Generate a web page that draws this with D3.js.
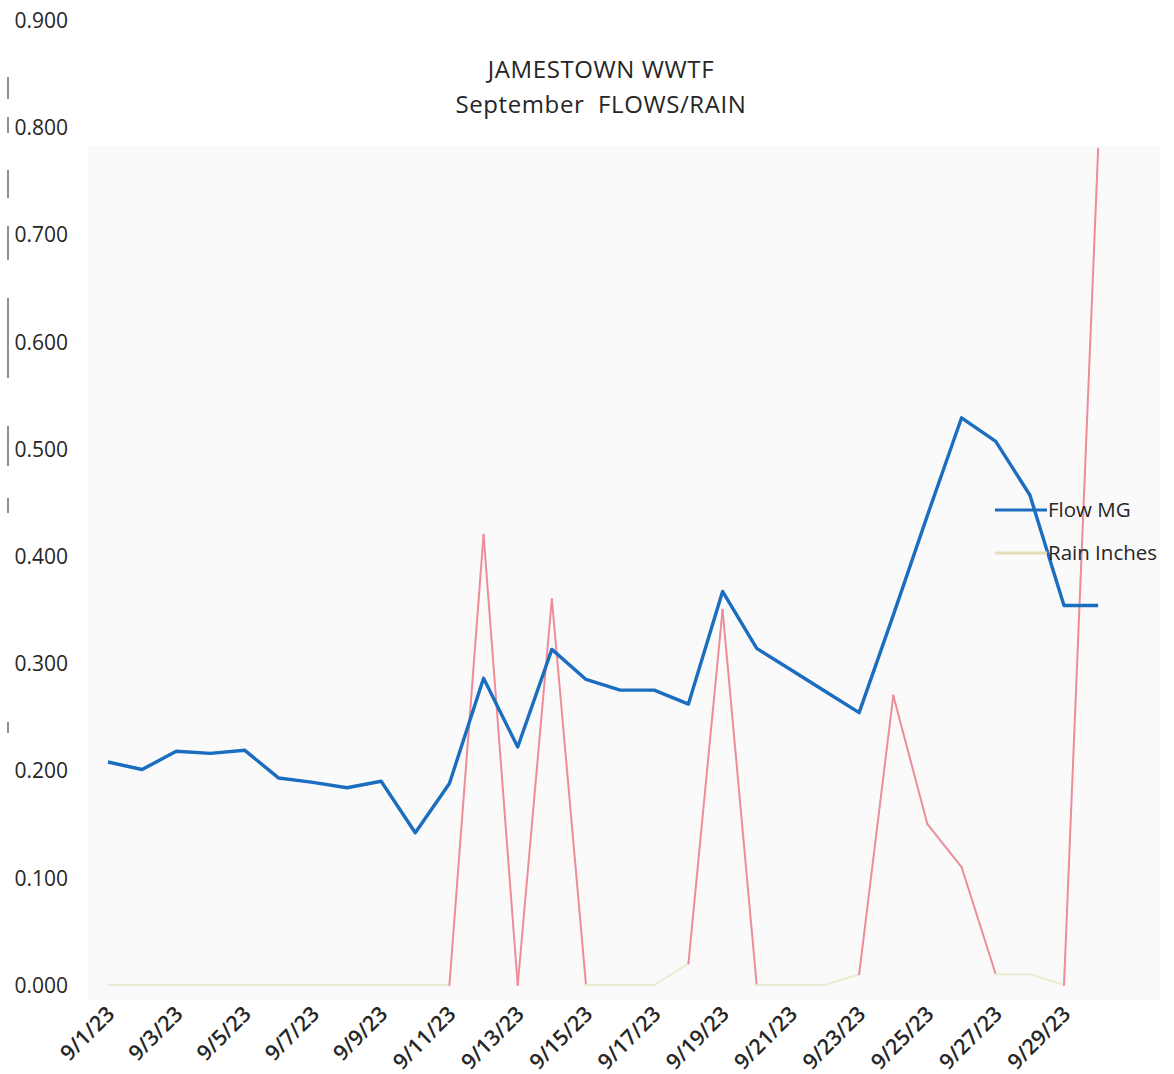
<!DOCTYPE html>
<html>
<head>
<meta charset="utf-8">
<script src="https://cdn.jsdelivr.net/npm/d3@7"></script>
<style>
  html, body { margin: 0; padding: 0; background: #fff; }
  svg { display: block; }
</style>
</head>
<body>
<svg id="chart" width="1174" height="1074"></svg>
<script>
// Daily readings for September 2023
const days = d3.range(1, 31);
const dateLabels = days.map(d => `9/${d}/23`);
const flowMG = [
  0.208, 0.201, 0.218, 0.216, 0.219, 0.193, 0.189, 0.184, 0.190, 0.142,
  0.188, 0.286, 0.222, 0.313, 0.285, 0.275, 0.275, 0.262, 0.367, 0.314,
  0.294, 0.274, 0.254, 0.345, 0.438, 0.529, 0.507, 0.457, 0.354, 0.354
];
const rainInches = [
  0.00, 0.00, 0.00, 0.00, 0.00, 0.00, 0.00, 0.00, 0.00, 0.00,
  0.00, 0.42, 0.00, 0.36, 0.00, 0.00, 0.00, 0.02, 0.35, 0.00,
  0.00, 0.00, 0.01, 0.27, 0.15, 0.11, 0.01, 0.01, 0.00, 0.78
];
const yTicks = [0, 0.1, 0.2, 0.3, 0.4, 0.5, 0.6, 0.7, 0.8, 0.9];
const seriesNames = ["Flow MG", "Rain Inches"];
const titleLines = ["JAMESTOWN WWTF", "September  FLOWS/RAIN"];

const svg = d3.select("#chart");
const font = "'Open Sans', 'Liberation Sans', sans-serif";

const x = d3.scaleLinear().domain([1, 29]).range([108, 1064]);
const y = d3.scaleLinear().domain([0, 0.9]).range([985, 20]);

// plot area panel
svg.append("rect")
  .attr("x", 88).attr("y", 146)
  .attr("width", 1072).attr("height", 854)
  .attr("fill", "#fafafa");

// title
svg.append("g").selectAll("text")
  .data(titleLines)
  .join("text")
  .attr("x", 601)
  .attr("y", (d, i) => 78 + i * 35)
  .attr("text-anchor", "middle")
  .attr("font-family", font)
  .attr("font-size", 24)
  .attr("letter-spacing", 0.6)
  .attr("fill", "#262626")
  .style("white-space", "pre")
  .text(d => d);

// broken left rule
svg.append("line")
  .attr("x1", 8).attr("x2", 8)
  .attr("y1", 77).attr("y2", 740)
  .attr("stroke", "#555")
  .attr("stroke-width", 1.3)
  .attr("stroke-dasharray", "22,18,16,37,28,28,34,38,80,48,40,32,15,209,11,1000");

// y axis labels
const yAxis = d3.axisLeft(y)
  .tickValues(yTicks)
  .tickFormat(d3.format(".3f"))
  .tickSize(0)
  .tickPadding(0);
const gy = svg.append("g").attr("transform", "translate(68,0)").call(yAxis);
gy.select(".domain").remove();
gy.selectAll("text")
  .attr("font-family", font)
  .attr("font-size", 21)
  .attr("fill", "#262626")
  .attr("dy", "0.35em");

// x axis labels (every other day)
const xAxis = d3.axisBottom(x)
  .tickValues(days.filter(d => d % 2 === 1))
  .tickFormat(d => dateLabels[d - 1])
  .tickSize(0)
  .tickPadding(0);
const gx = svg.append("g").attr("transform", "translate(0,1000)").call(xAxis);
gx.select(".domain").remove();
gx.selectAll("text")
  .attr("font-family", font)
  .attr("font-size", 21.5)
  .attr("font-weight", 600)
  .attr("fill", "#262626")
  .attr("text-anchor", "end")
  .attr("dy", "0.35em")
  .attr("transform", "translate(2,10) rotate(-45)");

// rain series: drawn as segments so the zero runs stay pale
const rainPts = days.map((d, i) => [d, rainInches[i]]);
const rainSegs = d3.pairs(rainPts);
svg.append("g").selectAll("line")
  .data(rainSegs)
  .join("line")
  .attr("x1", s => x(s[0][0])).attr("y1", s => y(s[0][1]))
  .attr("x2", s => x(s[1][0])).attr("y2", s => y(s[1][1]))
  .attr("stroke", s => (s[0][1] < 0.03 && s[1][1] < 0.03) ? "#ecebd2" : "#ee8c9a")
  .attr("stroke-width", 2)
  .attr("stroke-linecap", "round");

// flow series
const flowLine = d3.line()
  .x((d, i) => x(days[i]))
  .y(d => y(d));
svg.append("path")
  .datum(flowMG)
  .attr("d", flowLine)
  .attr("fill", "none")
  .attr("stroke", "#1b6dbf")
  .attr("stroke-width", 3.4)
  .attr("stroke-linejoin", "round");

// legend
const legendColors = ["#1b6dbf", "#e2dfb8"];
const legendWidths = [3, 3];
const lg = svg.append("g").selectAll("g")
  .data(seriesNames)
  .join("g")
  .attr("transform", (d, i) => `translate(995,${510 + i * 43})`);
lg.append("line")
  .attr("x1", 0).attr("x2", 52)
  .attr("stroke", (d, i) => legendColors[i])
  .attr("stroke-width", (d, i) => legendWidths[i]);
lg.append("text")
  .attr("x", 53)
  .attr("dy", "0.35em")
  .attr("font-family", font)
  .attr("font-size", 20.5)
  .attr("fill", "#262626")
  .text(d => d);
</script>
</body>
</html>
